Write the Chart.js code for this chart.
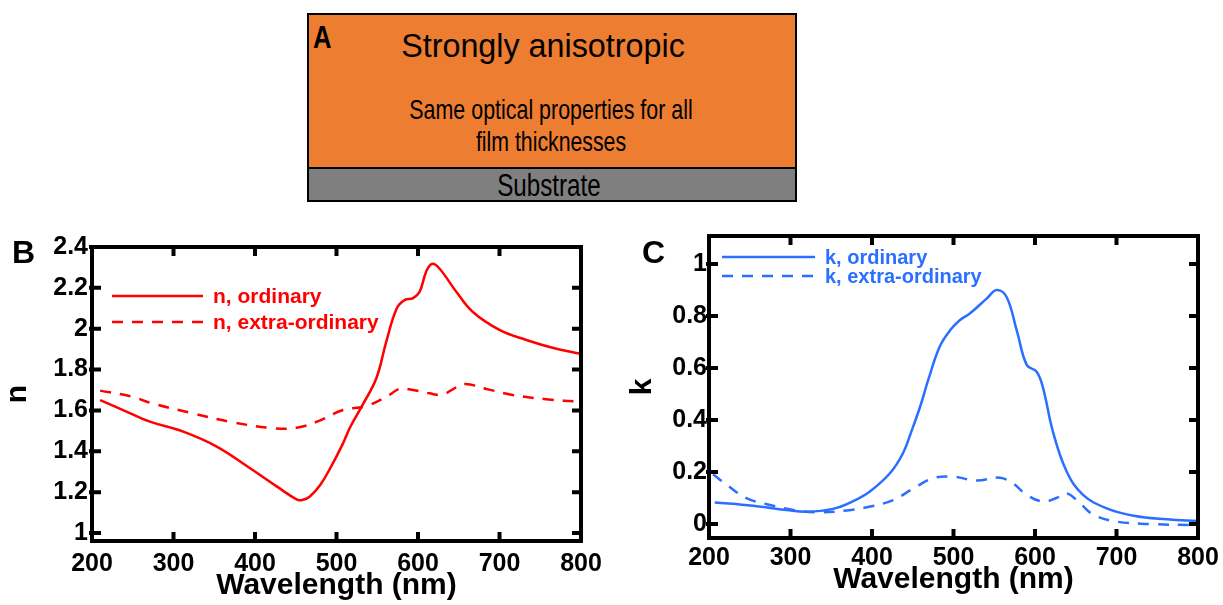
<!DOCTYPE html>
<html>
<head>
<meta charset="utf-8">
<script src="https://cdn.jsdelivr.net/npm/chart.js@4.4.1/dist/chart.umd.min.js"></script>
<style>
  html, body { margin: 0; padding: 0; background: #fff; }
  body { width: 1223px; height: 605px; position: relative; overflow: hidden;
         font-family: 'Liberation Sans', Arial, sans-serif; color: #000; }
  .abs { position: absolute; }
  #film { left: 307px; top: 13px; width: 490px; height: 156px; background: #ed7d31;
          border: 2px solid #000; box-sizing: border-box; }
  #subst { left: 307px; top: 167px; width: 490px; height: 35px; background: #7f7f7f;
           border: 2px solid #000; box-sizing: border-box; }
  .txt { width: 400px; text-align: center; white-space: nowrap; line-height: 1;
         transform-origin: center top; }
  .panel { font-weight: bold; font-size: 32px; line-height: 1; }
</style>
</head>
<body>
<div id="film" class="abs"></div>
<div id="subst" class="abs"></div>
<div class="abs panel" style="left:313px; top:21px; transform:scaleX(0.8); transform-origin:left top;">A</div>
<div class="abs txt" style="left:343px; top:28px; font-size:34px; transform:scaleX(0.95);">Strongly anisotropic</div>
<div class="abs txt" style="left:351px; top:96px; font-size:28px; transform:scaleX(0.765);">Same optical properties for all</div>
<div class="abs txt" style="left:351px; top:128px; font-size:28px; transform:scaleX(0.76);">film thicknesses</div>
<div class="abs txt" style="left:349px; top:170px; font-size:31px; transform:scaleX(0.78);">Substrate</div>

<canvas id="chartN" class="abs" width="612" height="380" style="left:0; top:225px;"></canvas>
<canvas id="chartK" class="abs" width="611" height="380" style="left:612px; top:225px;"></canvas>

<div class="abs panel" style="left:12px; top:236px;">B</div>
<div class="abs panel" style="left:642px; top:236px;">C</div>

<script>
// ---------------- Daten ----------------
const xTicks = [200, 300, 400, 500, 600, 700, 800];
const nTicks = [1, 1.2, 1.4, 1.6, 1.8, 2, 2.2, 2.4];
const kTicks = [0, 0.2, 0.4, 0.6, 0.8, 1];

// n, ordinary
const nOrdWl = [210, 247, 271, 312, 353, 394, 427, 451, 458, 467, 480, 494, 508, 517, 532,
                549, 561, 574, 584, 594, 602, 610, 617, 626, 647, 667, 700, 733, 765, 800];
const nOrd   = [1.651, 1.586, 1.545, 1.496, 1.423, 1.317, 1.227, 1.165, 1.162, 1.178, 1.235,
                1.330, 1.439, 1.520, 1.627, 1.759, 1.936, 2.100, 2.141, 2.150, 2.181, 2.279,
                2.317, 2.296, 2.181, 2.083, 1.994, 1.945, 1.907, 1.877];

// n, extra-ordinary
const nExtWl = [210, 250, 271, 320, 373, 422, 451, 476, 508, 537, 565, 577, 594, 614, 630,
                641, 657, 684, 716, 757, 800];
const nExt   = [1.697, 1.667, 1.638, 1.589, 1.542, 1.513, 1.515, 1.545, 1.602, 1.622, 1.676,
                1.705, 1.700, 1.684, 1.676, 1.700, 1.729, 1.705, 1.676, 1.655, 1.642];

// k, ordinary
const kOrdWl = [207, 254, 295, 320, 352, 377, 397, 422, 438, 449, 459, 469, 483, 496, 508,
                520, 541, 553, 565, 578, 590, 602, 610, 622, 639, 659, 688, 721, 762, 800];
const kOrd   = [0.083, 0.070, 0.054, 0.047, 0.058, 0.088, 0.124, 0.195, 0.272, 0.362, 0.451,
                0.554, 0.682, 0.746, 0.785, 0.810, 0.868, 0.900, 0.874, 0.740, 0.611, 0.586,
                0.522, 0.355, 0.201, 0.112, 0.060, 0.032, 0.018, 0.011];

// k, extra-ordinary
const kExtWl = [205, 222, 246, 271, 303, 336, 369, 398, 426, 451, 475, 500, 528, 557, 573,
                590, 610, 627, 639, 655, 672, 700, 741, 800];
const kExt   = [0.191, 0.150, 0.099, 0.076, 0.054, 0.045, 0.052, 0.067, 0.092, 0.137, 0.176,
                0.182, 0.167, 0.178, 0.156, 0.112, 0.086, 0.101, 0.118, 0.080, 0.035, 0.009,
                0.000, -0.005];

const RED = "#ff0000";
const BLUE = "#2a6fff";
const FAMILY = "'Liberation Sans', Arial, sans-serif";

const pts = (xs, ys) => xs.map((x, i) => ({ x, y: ys[i] }));

// Rahmen, Ticks nach innen und Legende im Plot
const frame = {
  id: "frame",
  afterDatasetsDraw(chart, args, o) {
    const { ctx, chartArea: a, scales: { x, y } } = chart;
    ctx.save();
    ctx.strokeStyle = "#000";
    ctx.lineWidth = 4;
    ctx.strokeRect(a.left, a.top, a.right - a.left, a.bottom - a.top);
    ctx.beginPath();
    x.ticks.forEach(t => {
      const px = x.getPixelForValue(t.value);
      ctx.moveTo(px, a.bottom); ctx.lineTo(px, a.bottom - 9);
      ctx.moveTo(px, a.top); ctx.lineTo(px, a.top + 9);
    });
    y.ticks.forEach(t => {
      const py = y.getPixelForValue(t.value);
      ctx.moveTo(a.left - 3, py); ctx.lineTo(a.left + 9, py);
      ctx.moveTo(a.right, py); ctx.lineTo(a.right - 9, py);
    });
    ctx.stroke();

    ctx.font = o.font;
    ctx.textBaseline = "middle";
    ctx.lineWidth = 2.5;
    chart.data.datasets.forEach((ds, i) => {
      const ly = o.y + i * o.gap;
      ctx.strokeStyle = ds.borderColor;
      ctx.setLineDash(ds.borderDash || []);
      ctx.beginPath();
      ctx.moveTo(o.x1, ly);
      ctx.lineTo(o.x2, ly);
      ctx.stroke();
      ctx.setLineDash([]);
      ctx.fillStyle = ds.borderColor;
      ctx.fillText(ds.label, o.tx, ly + 1);
    });
    ctx.restore();
  }
};

function line(label, data, color, dash) {
  return {
    label, data,
    borderColor: color,
    borderWidth: 2.5,
    borderDash: dash,
    pointRadius: 0,
    fill: false,
    tension: 0.4
  };
}

function buildChart(id, datasets, c) {
  const tickFont = { family: FAMILY, size: 25, weight: "bold" };
  const titleFont = { family: FAMILY, size: 30, weight: "bold", lineHeight: c.ylh };
  return new Chart(document.getElementById(id), {
    type: "line",
    data: { datasets },
    plugins: [frame],
    options: {
      responsive: false,
      animation: false,
      layout: { padding: c.pad },
      plugins: {
        legend: { display: false },
        tooltip: { enabled: false },
        frame: c.legend
      },
      scales: {
        x: {
          type: "linear", min: 200, max: 800,
          afterBuildTicks: s => { s.ticks = xTicks.map(v => ({ value: v })); },
          afterFit: s => { s.height = c.xh; s.paddingLeft = 0; s.paddingRight = 0; },
          grid: { display: false, drawTicks: false },
          border: { display: false },
          ticks: { font: tickFont, color: "#000", padding: c.xpad, maxRotation: 0, autoSkip: false },
          title: {
            display: true, text: "Wavelength (nm)", color: "#000",
            font: { family: FAMILY, size: 30, weight: "bold" },
            padding: { top: 0, bottom: c.xtpad }
          }
        },
        y: {
          type: "linear", min: c.ymin, max: c.ymax,
          afterBuildTicks: s => { s.ticks = c.yTicks.map(v => ({ value: v })); },
          afterFit: s => { s.width = c.yw; s.paddingTop = 0; s.paddingBottom = 0; },
          grid: { display: false, drawTicks: false },
          border: { display: false },
          ticks: {
            font: tickFont, color: "#000", padding: c.ypad, autoSkip: false,
            callback: v => String(+v.toFixed(1))
          },
          title: {
            display: true, text: c.ytitle, color: "#000", font: titleFont,
            padding: { top: c.ytpad, bottom: 0 }
          }
        }
      }
    }
  });
}

// B: Brechungsindex
buildChart("chartN", [
  line("n, ordinary", pts(nOrdWl, nOrd), RED, []),
  line("n, extra-ordinary", pts(nExtWl, nExt), RED, [11, 9])
], {
  pad: { left: 0, top: 22, right: 31, bottom: 0 },
  xh: 64, yw: 92, xpad: 8, xtpad: 1, ypad: 4,
  ymin: 0.961, ymax: 2.4, yTicks: nTicks,
  ytitle: "n", ylh: 1.1, ytpad: 1,
  legend: { x1: 112, x2: 203, tx: 213, y: 71, gap: 26, font: "bold 21px " + FAMILY }
});

// C: Extinktionskoeffizient
buildChart("chartK", [
  line("k, ordinary", pts(kOrdWl, kOrd), BLUE, []),
  line("k, extra-ordinary", pts(kExtWl, kExt), BLUE, [11, 9])
], {
  pad: { left: 0, top: 11, right: 25, bottom: 0 },
  xh: 67, yw: 97, xpad: 5, xtpad: 7, ypad: 2,
  ymin: -0.054, ymax: 1.108, yTicks: kTicks,
  ytitle: "k", ylh: 1.2, ytpad: 13,
  legend: { x1: 110, x2: 203, tx: 213, y: 32, gap: 19, font: "bold 20px " + FAMILY }
});
</script>
</body>
</html>
